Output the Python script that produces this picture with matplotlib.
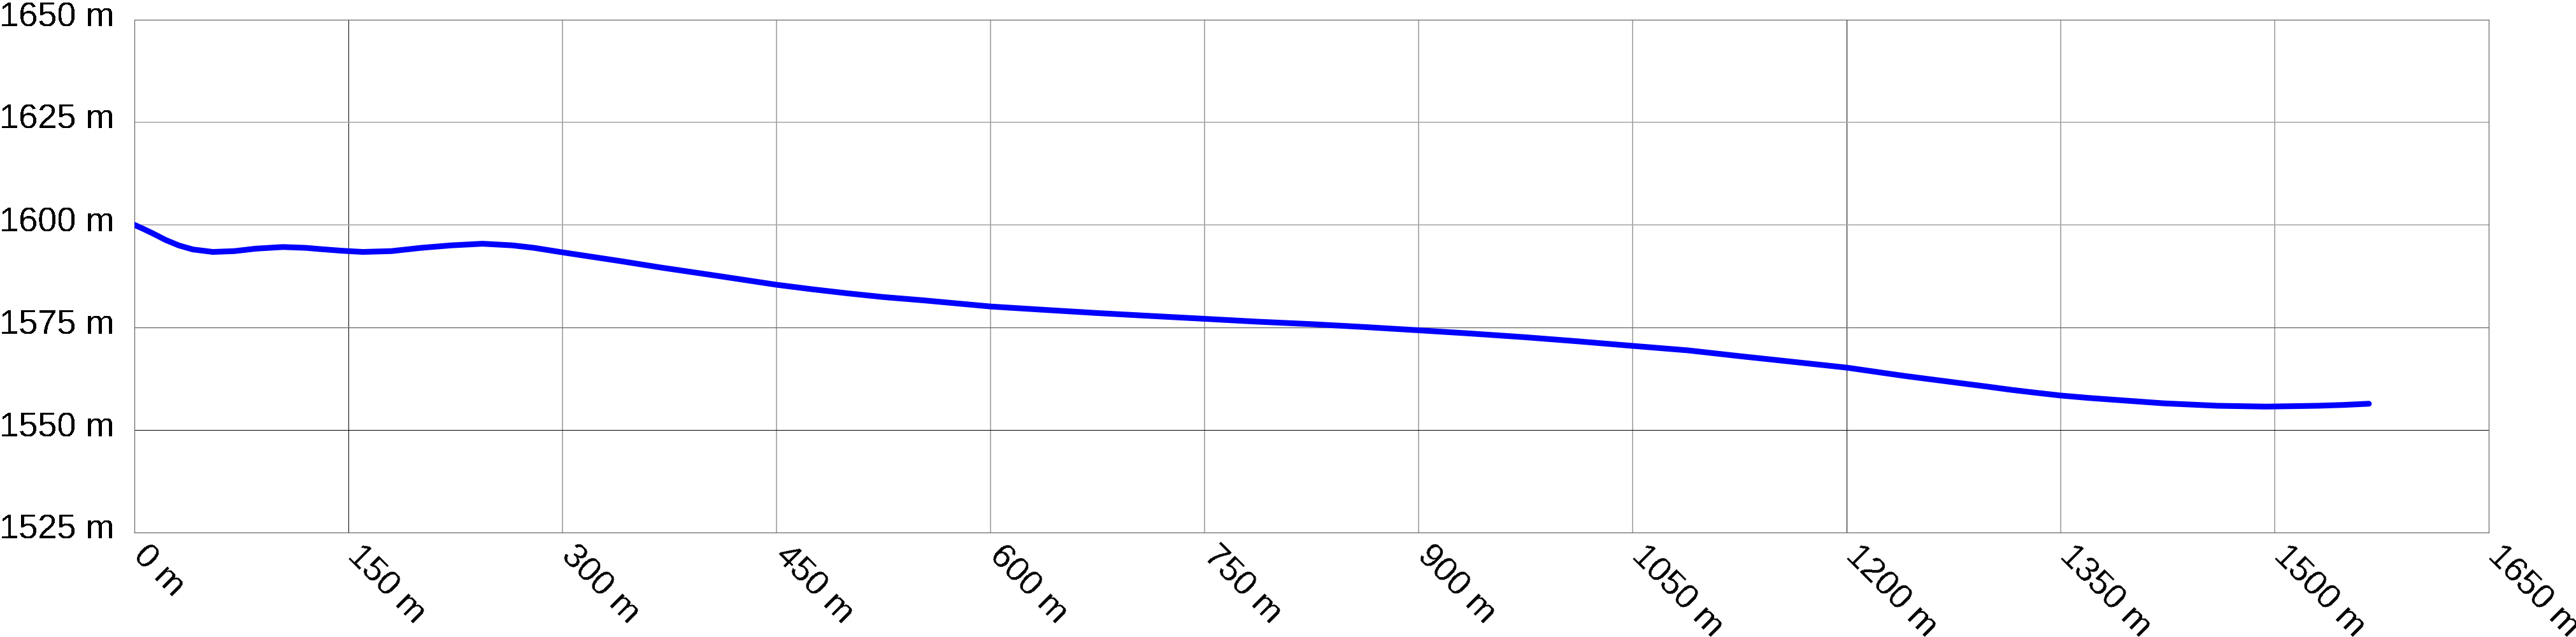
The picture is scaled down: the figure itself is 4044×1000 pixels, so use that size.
import matplotlib
matplotlib.use("Agg")
import matplotlib.pyplot as plt
from matplotlib.transforms import ScaledTranslation

# ---- data ----
distance_m = [0, 7, 13, 22, 31, 41, 55, 70, 85, 104, 120, 130, 145, 160, 180,
              201, 222, 244, 265, 280, 300, 340, 369, 410, 450, 475, 500, 525,
              553, 600, 637, 675, 712, 750, 787, 825, 862, 900, 937, 975,
              1012, 1050, 1089, 1125, 1160, 1200, 1220, 1240, 1260, 1280,
              1298, 1315, 1332, 1350, 1370, 1390, 1406, 1422, 1441, 1460,
              1477, 1494, 1512, 1530, 1548, 1566]
elevation_m = [1600.0, 1598.9, 1597.9, 1596.3, 1595.0, 1594.0, 1593.4, 1593.6,
               1594.2, 1594.6, 1594.4, 1594.1, 1593.7, 1593.4, 1593.6,
               1594.4, 1595.0, 1595.4, 1595.0, 1594.4, 1593.3, 1591.2, 1589.6,
               1587.5, 1585.4, 1584.3, 1583.3, 1582.4, 1581.6, 1580.1, 1579.3,
               1578.5, 1577.8, 1577.1, 1576.4, 1575.8, 1575.1, 1574.3, 1573.5,
               1572.6, 1571.6, 1570.5, 1569.4, 1568.0, 1566.7, 1565.2, 1564.2,
               1563.2, 1562.3, 1561.4, 1560.6, 1559.8, 1559.1, 1558.4, 1557.8,
               1557.3, 1556.9, 1556.5, 1556.2, 1555.9, 1555.8, 1555.7, 1555.8,
               1555.9, 1556.1, 1556.4]

x_ticks = [0, 150, 300, 450, 600, 750, 900, 1050, 1200, 1350, 1500, 1650]
y_ticks = [1525, 1550, 1575, 1600, 1625, 1650]
x_labels = [f"{v} m" for v in x_ticks]
y_labels = [f"{v} m" for v in y_ticks]

plt.rcParams["text.antialiased"] = False

# ---- figure ----
DPI = 100
W, H = 4044, 1000
fig = plt.figure(figsize=(W / DPI, H / DPI), dpi=DPI, facecolor="white")
L, R, T, B = 211, 3907, 31, 836
ax = fig.add_axes([L / W, 1 - B / H, (R - L) / W, (B - T) / H])
ax.set_facecolor("white")

ax.set_xlim(0, 1650)
ax.set_ylim(1525, 1650)

px = 72.0 / DPI  # points per pixel

# grid lines
dark_x = {150, 1200}
for xv in x_ticks[1:-1]:
    if xv in dark_x:
        ax.axvline(xv, color="#000000", lw=1 * px, zorder=1)
    else:
        ax.axvline(xv, color="#9c9c9c", lw=1.6 * px, zorder=1)
for yv in y_ticks[1:-1]:
    if yv == 1550:
        ax.axhline(yv, color="#000000", lw=1 * px, zorder=1)
    elif yv == 1575:
        ax.axhline(yv, color="#707070", lw=1.4 * px, zorder=1)
    else:
        ax.axhline(yv, color="#a8a8a8", lw=1.6 * px, zorder=1)

for s in ax.spines.values():
    s.set_color("#666666")
    s.set_linewidth(1.2 * px)

# profile line
ax.plot(distance_m, elevation_m, color="#0000ff", lw=9 * px,
        solid_capstyle="round", solid_joinstyle="round", zorder=3)

font = "Liberation Sans"
fs = 39

ax.set_xticks(x_ticks)
ax.set_yticks(y_ticks)
ax.set_xticklabels([])
ax.set_yticklabels([])
ax.tick_params(length=0)

xt = ax.get_xaxis_transform() + ScaledTranslation(-4 / DPI, -39 / DPI, fig.dpi_scale_trans)
for xv, lab in zip(x_ticks, x_labels):
    ax.text(xv, 0, lab, transform=xt, fontsize=fs, family=font,
            rotation=-45, rotation_mode="anchor",
            ha="left", va="baseline", clip_on=False)
yt = ax.get_yaxis_transform() + ScaledTranslation(-31 / DPI, -10 / DPI, fig.dpi_scale_trans)
for yv, lab in zip(y_ticks, y_labels):
    ax.text(0, yv, lab, transform=yt, fontsize=fs, family=font,
            ha="right", va="baseline", clip_on=False)

fig.savefig("out.png", dpi=DPI, facecolor="white")
